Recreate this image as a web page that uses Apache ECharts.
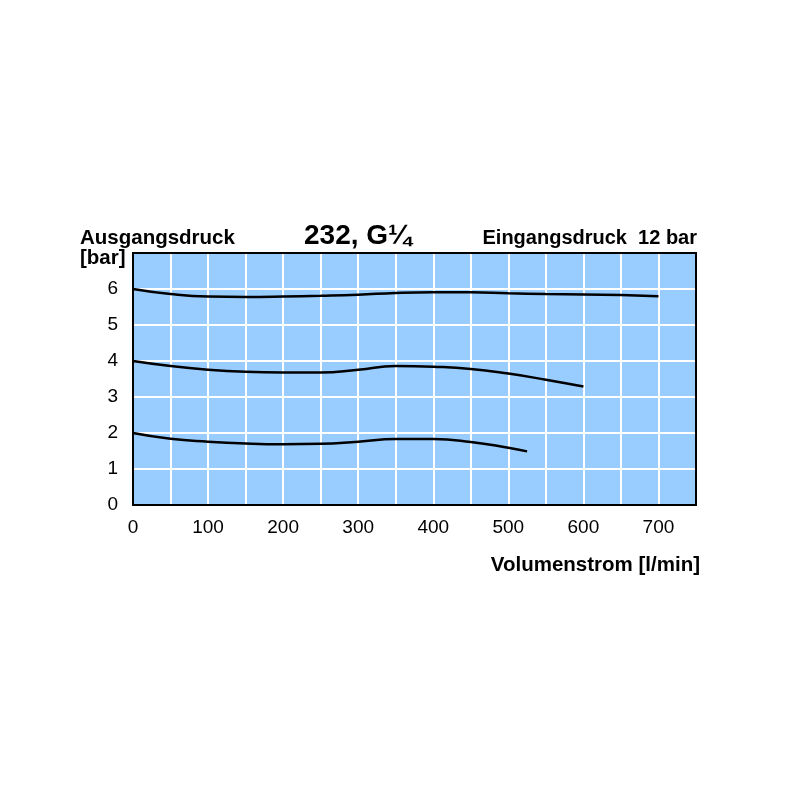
<!DOCTYPE html>
<html>
<head>
<meta charset="utf-8">
<script src="https://cdn.jsdelivr.net/npm/echarts@6/dist/echarts.min.js"></script>
<style>html,body{margin:0;padding:0;background:#fff}#c{width:800px;height:800px}</style>
</head>
<body>
<div id="c"></div>
<script>
const flowX = [0, 50, 100, 150, 200, 250, 300, 350, 400, 450, 500, 550, 600, 650, 700];
const curve6 = [6.0, 5.86, 5.79, 5.78, 5.79, 5.81, 5.84, 5.89, 5.91, 5.91, 5.88, 5.86, 5.85, 5.83, 5.80];
const flowX4 = [0, 50, 100, 150, 200, 250, 300, 350, 400, 450, 500, 550, 600];
const curve4 = [4.0, 3.86, 3.76, 3.70, 3.68, 3.68, 3.76, 3.86, 3.84, 3.78, 3.65, 3.48, 3.29];
const flowX2 = [0, 50, 100, 150, 200, 250, 300, 350, 400, 450, 500, 525];
const curve2 = [2.0, 1.84, 1.76, 1.71, 1.69, 1.70, 1.76, 1.83, 1.83, 1.75, 1.59, 1.49];
const xTicks = [0, 100, 200, 300, 400, 500, 600, 700];
const yTicks = [0, 1, 2, 3, 4, 5, 6];

const pair = (xs, ys) => xs.map((x, i) => [x, ys[i]]);
const F = '"Liberation Sans", Arial, sans-serif';
const frameLine = { show: true, onZero: false, lineStyle: { color: '#000', width: 2 } };

const chart = echarts.init(document.getElementById('c'));
const lineSeries = (d) => ({
  type: 'line', data: d, smooth: 0.5, showSymbol: false, symbol: 'none',
  lineStyle: { color: '#000', width: 2.5 }, z: 5, animation: false
});
chart.setOption({
  animation: false,
  grid: { left: 133, right: 104, top: 253, bottom: 295, show: true, backgroundColor: '#99ccff', borderWidth: 0 },
  xAxis: [{
    type: 'value', min: 0, max: 750, interval: 50, position: 'bottom',
    axisLine: frameLine, axisTick: { show: false },
    splitLine: { show: true, lineStyle: { color: '#fff', width: 2 } },
    axisLabel: { fontFamily: F, fontSize: 19, color: '#000', margin: 13,
      formatter: v => xTicks.includes(v) ? String(v) : '' }
  }, {
    type: 'value', min: 0, max: 750, position: 'top',
    axisLine: frameLine, axisTick: { show: false }, axisLabel: { show: false }, splitLine: { show: false }
  }],
  yAxis: [{
    type: 'value', min: 0, max: 7, interval: 1, position: 'left',
    axisLine: frameLine, axisTick: { show: false },
    splitLine: { show: true, lineStyle: { color: '#fff', width: 2 } },
    axisLabel: { fontFamily: F, fontSize: 19, color: '#000', margin: 15,
      formatter: v => yTicks.includes(v) ? String(v) : '' }
  }, {
    type: 'value', min: 0, max: 7, position: 'right',
    axisLine: frameLine, axisTick: { show: false }, axisLabel: { show: false }, splitLine: { show: false }
  }],
  series: [lineSeries(pair(flowX, curve6)), lineSeries(pair(flowX4, curve4)), lineSeries(pair(flowX2, curve2))],
  graphic: [
    { type: 'text', left: 80, top: 228, style: { text: 'Ausgangsdruck', font: 'bold 20.5px ' + F, fill: '#000' } },
    { type: 'text', left: 80, top: 248, style: { text: '[bar]', font: 'bold 20.5px ' + F, fill: '#000' } },
    { type: 'text', left: 304, top: 222, style: { text: '232, G¼', font: 'bold 28px ' + F, fill: '#000' } },
    { type: 'text', right: 103, top: 228, style: { text: 'Eingangsdruck  12 bar', font: 'bold 20px ' + F, fill: '#000' } },
    { type: 'text', right: 100, top: 555, style: { text: 'Volumenstrom [l/min]', font: 'bold 20.5px ' + F, fill: '#000' } }
  ]
});
</script>
</body>
</html>
